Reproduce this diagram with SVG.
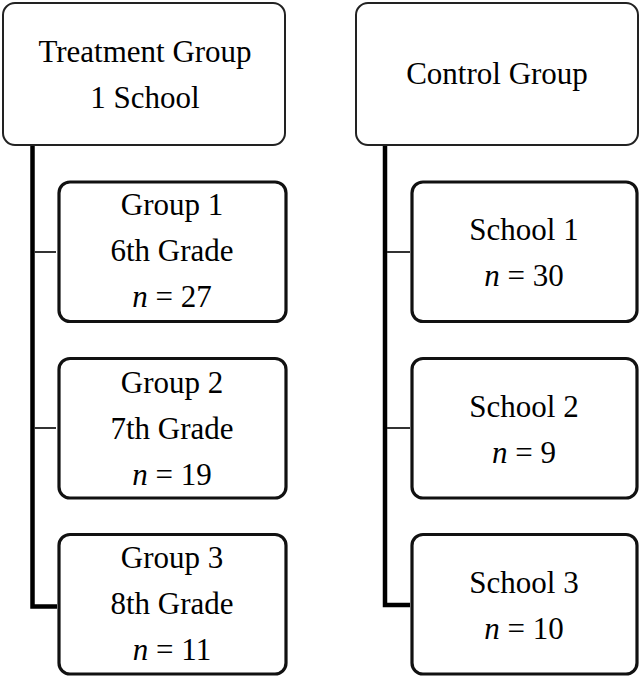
<svg xmlns="http://www.w3.org/2000/svg" width="640" height="677" viewBox="0 0 640 677">
<style>
text{font-family:"Liberation Serif","Times New Roman",serif;font-size:31px;fill:#000;text-anchor:middle}
.top{fill:#fff;stroke:#222;stroke-width:2}
.child{fill:#fff;stroke:#111;stroke-width:3.2}
.trunk{fill:none;stroke:#000;stroke-width:4.5;stroke-linejoin:miter}
.tick{fill:none;stroke:#333;stroke-width:2}
.i{font-style:italic}
</style>
<rect width="640" height="677" fill="#fff"/>
<g id="connectors">
<polyline class="trunk" points="32.5,145 32.5,606.5 57,606.5"/>
<line class="tick" x1="34" y1="252" x2="56" y2="252"/>
<line class="tick" x1="34" y1="428" x2="56" y2="428"/>
<polyline class="trunk" points="385,145 385,605 410,605"/>
<line class="tick" x1="387" y1="252" x2="410" y2="252"/>
<line class="tick" x1="387" y1="428" x2="410" y2="428"/>
</g>
<g id="treatment">
<rect class="top" x="3" y="3" width="282" height="142" rx="12"/>
<text x="145" y="62">Treatment Group</text>
<text x="145" y="108">1 School</text>
</g>
<g id="group1">
<rect class="child" x="59" y="182" width="227" height="139.5" rx="11"/>
<text x="172" y="215">Group 1</text>
<text x="172" y="261">6th Grade</text>
<text x="172" y="307"><tspan class="i">n</tspan> = 27</text>
</g>
<g id="group2">
<rect class="child" x="59" y="358.5" width="227" height="139.5" rx="11"/>
<text x="172" y="392.5">Group 2</text>
<text x="172" y="438.5">7th Grade</text>
<text x="172" y="484.5"><tspan class="i">n</tspan> = 19</text>
</g>
<g id="group3">
<rect class="child" x="59" y="534.5" width="227" height="139.5" rx="11"/>
<text x="172" y="568">Group 3</text>
<text x="172" y="614">8th Grade</text>
<text x="172" y="660"><tspan class="i">n</tspan> = 11</text>
</g>
<g id="control">
<rect class="top" x="356" y="3" width="282" height="142" rx="12"/>
<text x="497" y="84">Control Group</text>
</g>
<g id="school1">
<rect class="child" x="412" y="182" width="225" height="139.5" rx="11"/>
<text x="524" y="240">School 1</text>
<text x="524" y="286"><tspan class="i">n</tspan> = 30</text>
</g>
<g id="school2">
<rect class="child" x="412" y="358.5" width="225" height="139.5" rx="11"/>
<text x="524" y="416.5">School 2</text>
<text x="524" y="462.5"><tspan class="i">n</tspan> = 9</text>
</g>
<g id="school3">
<rect class="child" x="412" y="534.5" width="225" height="139.5" rx="11"/>
<text x="524" y="592.5">School 3</text>
<text x="524" y="638.5"><tspan class="i">n</tspan> = 10</text>
</g>
</svg>
